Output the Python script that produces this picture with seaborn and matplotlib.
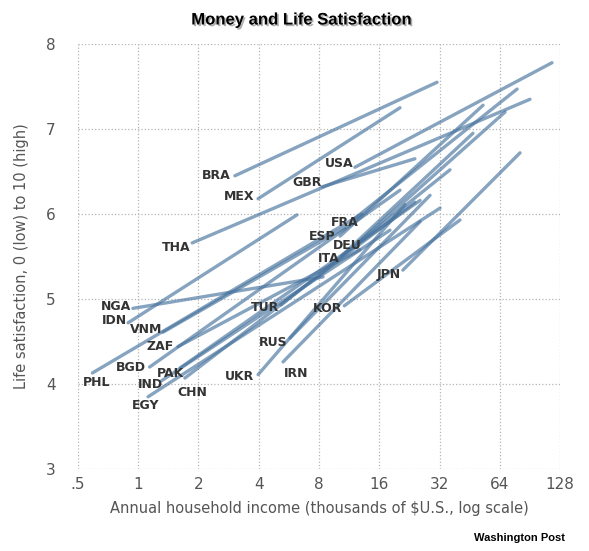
# Money and Life Satisfaction - within-country income/satisfaction lines
import numpy as np
import pandas as pd

import matplotlib
matplotlib.use('Agg')
from matplotlib import pyplot as plt
import matplotlib.patheffects as pe
import seaborn as sns

# country codes (labels sit at the low-income end of each line)
countries = ['PHL', 'NGA', 'IDN', 'VNM', 'ZAF', 'BGD', 'PAK', 'IND', 'EGY', 'CHN',
             'THA', 'BRA', 'MEX', 'GBR', 'USA', 'FRA', 'ESP', 'DEU', 'ITA', 'JPN',
             'TUR', 'KOR', 'RUS', 'UKR', 'IRN']

# annual household income, thousands of $US (start / end of each line)
income_start = [0.59, 0.94, 0.89, 1.33, 1.58, 1.14, 1.62, 1.31, 1.12, 1.71,
                1.86, 3.04, 3.97, 8.28, 12.1, 12.1, 10.2, 12.5, 10.4, 21.0,
                5.17, 10.7, 5.73, 3.97, 5.29]
income_end = [13.1, 8.38, 6.21, 10.8, 12.8, 20.3, 25.6, 18.1, 32.2, 24.1,
              90.6, 31.1, 20.3, 24.1, 116.7, 78.1, 52.8, 68.0, 47.0, 80.8,
              36.1, 40.5, 28.7, 21.5, 25.6]

# life satisfaction, 0-10 (start / end of each line)
sat_start = [4.13, 4.89, 4.72, 4.61, 4.44, 4.20, 4.19, 4.04, 3.85, 4.07,
             5.66, 6.45, 6.18, 6.32, 6.55, 5.95, 5.74, 5.66, 5.51, 5.34,
             4.93, 4.92, 4.54, 4.11, 4.26]
sat_end = [6.00, 5.26, 5.99, 5.84, 5.58, 6.28, 6.16, 5.81, 6.07, 6.14,
           7.35, 7.55, 7.25, 6.65, 7.78, 7.47, 7.28, 7.20, 6.95, 6.72,
           6.52, 5.93, 6.22, 6.11, 5.91]

x_ticks = [0.5, 1, 2, 4, 8, 16, 32, 64, 128]
x_tick_labels = ['.5', '1', '2', '4', '8', '16', '32', '64', '128']
y_ticks = [3, 4, 5, 6, 7, 8]

df = pd.DataFrame({
    'country': countries + countries,
    'income': income_start + income_end,
    'satisfaction': sat_start + sat_end,
})

# label nudges in points (layout only)
nudge = {'PHL': (16, -7), 'EGY': (11, -6.5), 'CHN': (19, -10.5), 'IRN': (21, -8),
         'PAK': (5.5, -4.3), 'IND': (4, -3), 'THA': (2, -3.6), 'GBR': (2.5, 3),
         'USA': (2, 3), 'FRA': (5.5, -3), 'DEU': (6, -1.5), 'ITA': (1.5, -2),
         'JPN': (1.5, -3), 'TUR': (1.5, -2), 'KOR': (1.5, -2), 'RUS': (1.5, -3.5),
         'UKR': (0.5, -1.5), 'NGA': (1.5, 1.5), 'IDN': (2.5, 2), 'VNM': (2.5, 2),
         'MEX': (0.5, 1.5)}

sns.set_style('white')
fig = plt.figure(figsize=(5.89, 5.51), dpi=100)
ax = fig.add_axes([0.1324, 0.1488, 0.8184, 0.7713])

sns.lineplot(data=df, x='income', y='satisfaction', units='country',
             estimator=None, color='#46729d', alpha=0.65, linewidth=2.4,
             ax=ax, legend=False)
for line in ax.lines:
    line.set_solid_capstyle('round')

ax.set_xscale('log', base=2)
ax.set_xlim(0.5, 128)
ax.set_ylim(3, 8)
ax.set_xticks(x_ticks)
ax.set_xticklabels(x_tick_labels)
ax.set_yticks(y_ticks)
ax.minorticks_off()
ax.grid(True, linestyle=':', color='#b5b5b5', linewidth=0.9)
for s in ax.spines.values():
    s.set_visible(False)
ax.tick_params(length=0, colors='#555555', labelsize=11)
ax.tick_params(axis='y', pad=16)
ax.tick_params(axis='x', pad=6)

ax.set_xlabel('Annual household income (thousands of $U.S., log scale)',
              fontsize=10.5, color='#555555', labelpad=6)
ax.set_ylabel('Life satisfaction, 0 (low) to 10 (high)',
              fontsize=10.5, color='#555555', labelpad=12)

for c, xi, yi in zip(countries, income_start, sat_start):
    dx, dy = nudge.get(c, (0, 0))
    ax.annotate(c, (xi, yi), xytext=(-3 + dx, dy), textcoords='offset points',
                ha='right', va='center', fontsize=9, fontweight='bold',
                color='#333333')

fig.text(0.511, 0.9637, 'Money and Life Satisfaction', ha='center', va='center',
         fontsize=12, fontweight='bold', family='Liberation Sans', color='black',
         path_effects=[pe.withSimplePatchShadow(offset=(1.2, -1.2),
                                                shadow_rgbFace='#777777', alpha=0.6)])
fig.text(0.959, 0.0236, 'Washington Post', ha='right', va='center',
         fontsize=8, fontweight='bold', family='Liberation Sans', color='black')

plt.savefig('out.png', dpi=100)
